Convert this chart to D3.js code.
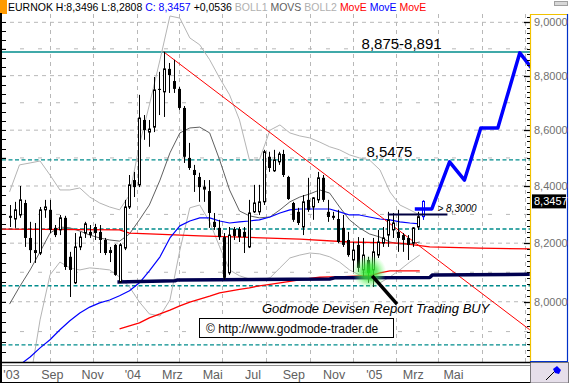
<!DOCTYPE html>
<html><head><meta charset="utf-8">
<script src="https://cdn.jsdelivr.net/npm/d3@7/dist/d3.min.js"></script>
<style>
html,body{margin:0;padding:0;background:#fff;overflow:hidden}
svg{display:block}
text{font-family:"Liberation Sans",Arial,Helvetica,sans-serif}
</style></head><body>
<svg id="chart" width="569" height="383"></svg>
<script>
// ================= DATA =================
const symbol = "EURNOK";
const headerHigh = "8,3496", headerLow = "8,2808", headerClose = "8,3457", headerChange = "+0,0536";
const lastPrice = 8.3457;
const firstWeek = "2003-07-07";

const opens = [8.295,8.284,8.298,8.340,8.218,8.176,8.166,8.316,8.316,8.253,
8.246,8.288,8.153,8.064,8.187,8.235,8.239,8.256,8.239,8.211,
8.176,8.194,8.067,8.183,8.326,8.421,8.404,8.637,8.593,8.611,
8.751,8.740,8.825,8.780,8.751,8.681,8.500,8.457,8.432,8.389,
8.382,8.274,8.253,8.221,8.098,8.249,8.249,8.239,8.187,8.309,
8.309,8.344,8.504,8.454,8.486,8.514,8.432,8.340,8.309,8.256,
8.351,8.326,8.351,8.429,8.309,8.295,8.284,8.253,8.211,8.142,
8.194,8.108,8.142,8.108,8.159,8.200,8.228,8.246,8.239,8.228,
8.218,8.200,8.256,8.2921];
const highs = [8.333,8.344,8.400,8.351,8.274,8.270,8.326,8.351,8.351,8.263,
8.298,8.295,8.170,8.235,8.239,8.274,8.263,8.267,8.263,8.218,
8.187,8.197,8.200,8.351,8.439,8.450,8.729,8.655,8.637,8.795,
8.814,8.889,8.847,8.859,8.758,8.688,8.554,8.475,8.447,8.421,
8.421,8.305,8.281,8.235,8.256,8.256,8.256,8.256,8.351,8.404,
8.404,8.529,8.522,8.529,8.522,8.529,8.436,8.344,8.323,8.368,
8.429,8.361,8.450,8.439,8.351,8.309,8.316,8.298,8.239,8.204,
8.221,8.218,8.153,8.218,8.246,8.256,8.309,8.305,8.316,8.235,
8.228,8.256,8.309,8.3496];
const lows = [8.256,8.253,8.288,8.187,8.132,8.132,8.159,8.288,8.235,8.221,
8.228,8.108,8.016,8.060,8.176,8.218,8.218,8.211,8.166,8.159,
8.135,8.088,8.064,8.176,8.319,8.361,8.396,8.565,8.540,8.593,
8.655,8.648,8.736,8.736,8.674,8.482,8.457,8.379,8.344,8.344,
8.253,8.246,8.211,8.074,8.091,8.211,8.204,8.166,8.183,8.305,
8.298,8.333,8.450,8.450,8.475,8.432,8.351,8.274,8.263,8.228,
8.309,8.281,8.340,8.344,8.274,8.281,8.200,8.187,8.153,8.101,
8.101,8.084,8.064,8.050,8.149,8.187,8.187,8.218,8.170,8.170,
8.142,8.187,8.246,8.2808];
const closes = [8.288,8.316,8.351,8.218,8.176,8.166,8.316,8.326,8.246,8.228,
8.288,8.118,8.108,8.187,8.221,8.267,8.228,8.235,8.211,8.166,
8.166,8.091,8.194,8.326,8.404,8.396,8.644,8.600,8.604,8.747,
8.747,8.825,8.802,8.751,8.681,8.504,8.464,8.439,8.396,8.396,
8.305,8.256,8.221,8.081,8.228,8.225,8.221,8.221,8.305,8.340,
8.344,8.522,8.464,8.493,8.514,8.439,8.354,8.281,8.270,8.344,
8.316,8.358,8.429,8.351,8.291,8.288,8.204,8.194,8.159,8.176,
8.115,8.159,8.098,8.170,8.204,8.218,8.281,8.270,8.218,8.211,
8.194,8.253,8.292,8.3457];

// sampling dates for the indicator lines (about every two weeks)
const gridDates = ["2003-06-23","2003-07-06","2003-07-20","2003-08-04","2003-08-18","2003-09-01","2003-09-15","2003-09-29","2003-10-13","2003-10-27",
"2003-11-10","2003-11-24","2003-12-08","2003-12-22","2004-01-05","2004-01-19","2004-02-03","2004-02-17","2004-03-02","2004-03-16",
"2004-03-30","2004-04-13","2004-04-27","2004-05-11","2004-05-25","2004-06-08","2004-06-22","2004-07-07","2004-07-21","2004-08-04",
"2004-08-18","2004-09-01","2004-09-15","2004-09-29","2004-10-13","2004-10-27","2004-11-10","2004-11-24","2004-12-09","2004-12-23",
"2005-01-06","2005-01-20","2005-02-03","2005-02-17","2005-03-03","2005-03-17","2005-03-31","2005-04-14","2005-04-28","2005-05-13",
"2005-05-27","2005-06-10","2005-06-24","2005-07-08"];

const bollUpperStart = 1;
const bollUpper = [8.379,8.475,8.482,8.489,8.439,8.386,8.386,8.393,8.361,8.340,8.326,8.316,8.368,8.547,8.692,8.859,9.024,9.016,8.941,8.915,
8.859,8.791,8.729,8.637,8.493,8.493,8.600,8.619,8.590,8.579,8.572,8.557,8.540,8.529,8.511,8.500,8.493,8.457,8.379,8.333,8.316,8.298];
const bollLowerStart = 3;
const bollLower = [7.740,7.939,8.091,8.135,8.115,8.108,8.115,8.112,8.108,8.084,8.050,7.999,7.959,7.952,8.006,8.176,8.323,8.333,8.274,8.187,
8.108,8.088,8.077,8.074,8.081,8.115,8.149,8.159,8.166,8.163,8.153,8.135,8.108,8.091,8.074,8.064,8.084,8.108,8.135,8.159];
const movsStart = 1;
const movs = [7.992,8.050,8.108,8.170,8.235,8.256,8.253,8.242,8.228,8.218,8.211,8.207,8.232,8.281,8.333,8.421,8.518,8.590,8.608,8.611,
8.590,8.493,8.386,8.312,8.295,8.288,8.291,8.316,8.344,8.361,8.372,8.386,8.375,8.326,8.281,8.253,8.232,8.221,8.204,8.197,8.197,8.204];
const blueMAStart = 2;
const blueMA = [7.789,7.816,7.846,7.873,7.906,7.936,7.962,7.982,7.996,8.006,8.020,8.037,8.064,8.105,8.153,8.218,8.260,8.277,8.288,8.288,
8.277,8.270,8.274,8.277,8.281,8.291,8.305,8.316,8.319,8.319,8.319,8.319,8.309,8.298,8.298,8.291,8.284,8.281,8.274,8.270,8.267];
const redRisingStart = 12;
const redRising = [7.909,7.919,7.929,7.946,7.959,7.972,7.986,7.999,8.009,8.019,8.030,8.036,8.042,8.047,8.054,8.059,8.064,8.069,8.074,8.079,
8.083,8.084,8.084,8.086,8.088,8.088,8.098,8.105,8.105,8.105,8.105];
const redFlatDates = ["2003-06-23","2003-12-08","2003-12-22","2004-01-19","2004-03-30","2004-06-08","2004-08-18","2004-10-27","2005-01-06","2005-02-17","2005-04-28","2005-07-08"];
const redFlatValues = [8.249,8.246,8.235,8.232,8.225,8.220,8.214,8.204,8.200,8.187,8.183,8.180];

// drawn support / resistance / projection
const supportDates = ["2003-12-05","2004-02-24","2004-02-28","2004-09-29","2004-10-06","2005-02-17","2005-02-21","2005-07-08"];
const supportValues = [8.067,8.071,8.074,8.077,8.081,8.082,8.091,8.093];
const trendDates = ["2004-02-08","2005-07-08"];
const trendValues = [8.889,7.906];
const resistDates = ["2004-12-20","2005-03-14"];
const resistValue = 8.30;
const projDates = ["2005-01-27","2005-02-20","2005-03-17","2005-04-07","2005-04-30","2005-05-24","2005-06-24","2005-07-22"];
const projValues = [8.319,8.319,8.486,8.421,8.608,8.608,8.885,8.788];
const levelValues = [8.888, 8.493, 8.249, 8.054, 7.856];
const levelLabels = ["8,875-8,891", "8,5475"];
const levelLabelDates = ["2004-11-13", "2004-11-20"];
const signalDate = "2004-11-24", signalValue = 8.101;
const arrowDates = ["2004-11-28", "2005-01-02"];
const arrowValues = [8.088, 7.992];

// axes
const yTickValues = [8.0, 8.2, 8.4, 8.6, 8.8, 9.0];
const yMinorGrid = [7.9, 8.1, 8.3, 8.5, 8.7, 8.9];
const xGridDates = ["2003-09-01","2003-11-01","2004-01-01","2004-03-01","2004-05-01","2004-07-01","2004-09-01","2004-11-01","2005-01-01","2005-03-01","2005-05-01","2005-07-01"];
const xLabelDates = ["2003-07-01","2003-09-01","2003-11-01","2004-01-01","2004-03-01","2004-05-01","2004-07-01","2004-09-01","2004-11-01","2005-01-01","2005-03-01","2005-05-01"];
const xLabels = ["'03","Sep","Nov","'04","Mrz","Mai","Jul","Sep","Nov","'05","Mrz","Mai"];

// ================= CHART =================
const parse = d3.timeParse("%Y-%m-%d");
const svg = d3.select("#chart");
const P = {l: 2, r: 530.5, t: 14, b: 362};
const x = d3.scaleTime().domain([parse("2003-09-01"), parse("2005-05-01")]).range([50, 481.5]);
// the label strip of the original runs on its own, slightly compressed scale
const xLab = d3.scaleTime().domain([parse("2003-07-01"), parse("2005-05-01")]).range([11.5, 453.5]);
const y = d3.scaleLog().domain([7.8, 9.0316]).range([361.8, 14]);

svg.append("rect").attr("width", 569).attr("height", 383).attr("fill", "#fff");
const defs = svg.append("defs");
defs.append("clipPath").attr("id", "clip").append("rect")
  .attr("x", P.l).attr("y", P.t).attr("width", P.r - P.l).attr("height", P.b - P.t);
const grad = defs.append("radialGradient").attr("id", "glow");
grad.append("stop").attr("offset", "0%").attr("stop-color", "#20e820").attr("stop-opacity", 0.95);
grad.append("stop").attr("offset", "45%").attr("stop-color", "#40e840").attr("stop-opacity", 0.75);
grad.append("stop").attr("offset", "100%").attr("stop-color", "#80ff80").attr("stop-opacity", 0);

const g = svg.append("g").attr("clip-path", "url(#clip)");

// grid
g.selectAll(".hg").data(yTickValues).join("line")
  .attr("x1", P.l).attr("x2", P.r).attr("y1", d => y(d)).attr("y2", d => y(d))
  .attr("stroke", "#b8b8b8").attr("stroke-dasharray", "4,4");
g.selectAll(".hm").data(yMinorGrid).join("line")
  .attr("x1", P.l).attr("x2", P.r).attr("y1", d => y(d)).attr("y2", d => y(d))
  .attr("stroke", "#b8b8b8").attr("stroke-dasharray", "4,14");
g.selectAll(".vg").data(xGridDates.map(parse)).join("line")
  .attr("x1", d => Math.round(x(d)) + 0.5).attr("x2", d => Math.round(x(d)) + 0.5)
  .attr("y1", P.t).attr("y2", P.b)
  .attr("stroke", "#b8b8b8").attr("stroke-dasharray", "4,4");

// levels
g.selectAll(".lv").data(levelValues).join("line")
  .attr("x1", P.l).attr("x2", P.r).attr("y1", d => y(d)).attr("y2", d => y(d))
  .attr("stroke", "#008c8c").attr("stroke-width", 1.4)
  .attr("stroke-dasharray", (d, i) => i === 0 ? null : "4,2.5");

const line = d3.line().defined(d => d.v != null).x(d => x(d.d)).y(d => y(d.v));
const fromGrid = (start, vals) => vals.map((v, k) => ({d: parse(gridDates[start + k]), v}));
const fromPairs = (ds, vs) => ds.map((d, k) => ({d: parse(d), v: vs[k]}));
function path(data, color, width) {
  g.append("path").datum(data).attr("d", line).attr("fill", "none")
    .attr("stroke", color).attr("stroke-width", width).attr("stroke-linejoin", "round");
}
path(fromGrid(bollUpperStart, bollUpper), "#b4b4b4", 1);
path(fromGrid(bollLowerStart, bollLower), "#b4b4b4", 1);
path(fromGrid(movsStart, movs), "#606060", 1);
path(fromPairs(redFlatDates, redFlatValues), "#ff0000", 1.3);
path(fromGrid(redRisingStart, redRising), "#ff0000", 1.3);
path(fromGrid(blueMAStart, blueMA), "#0000ff", 1.2);
path(fromPairs(trendDates, trendValues), "#ff0000", 1);
path(fromPairs(supportDates, supportValues), "#000050", 3.5);

// candles
const weekDates = opens.map((_, i) => d3.timeWeek.offset(parse(firstWeek), i));
const candles = opens.map((o, i) => ({d: weekDates[i], o, h: highs[i], l: lows[i], c: closes[i], last: i === opens.length - 1}));
const cg = g.append("g");
candles.forEach(k => {
  const cx = Math.round(x(k.d));
  const col = k.last ? "#0000ff" : "#000";
  cg.append("line").attr("x1", cx + 0.5).attr("x2", cx + 0.5)
    .attr("y1", y(k.h)).attr("y2", y(k.l)).attr("stroke", col).attr("stroke-width", 1);
  const top = y(Math.max(k.o, k.c)), bot = y(Math.min(k.o, k.c));
  if (k.c >= k.o) {
    cg.append("rect").attr("x", cx - 0.5).attr("y", top).attr("width", 2).attr("height", Math.max(1, bot - top))
      .attr("fill", "#fff").attr("stroke", col).attr("stroke-width", 1);
  } else {
    cg.append("rect").attr("x", cx - 1).attr("y", top).attr("width", 3).attr("height", Math.max(1, bot - top))
      .attr("fill", col);
  }
});

// signal glow
g.append("circle").attr("cx", x(parse(signalDate))).attr("cy", y(signalValue)).attr("r", 17).attr("fill", "url(#glow)");
path(fromPairs(arrowDates, arrowValues), "#000", 3.5);

// resistance and projection
g.append("line").attr("x1", x(parse(resistDates[0]))).attr("x2", x(parse(resistDates[1])))
  .attr("y1", y(resistValue)).attr("y2", y(resistValue)).attr("stroke", "#000040").attr("stroke-width", 2);
path(fromPairs(projDates, projValues), "#0000ff", 3.5);

// level labels
g.selectAll(".ll").data(levelLabels).join("text")
  .attr("x", (d, i) => x(parse(levelLabelDates[i]))).attr("y", (d, i) => y(levelValues[i]) - 3)
  .attr("font-size", 15).attr("fill", "#000").text(d => d);
g.append("text").attr("x", x(parse(resistDates[1])) - 10).attr("y", y(resistValue) - 2)
  .attr("font-size", 10).attr("font-style", "italic").text("> 8,3000");

// annotation texts
svg.append("text").attr("x", 262).attr("y", 313).attr("font-size", 13).attr("font-style", "italic")
  .text("Godmode Devisen Report Trading BUY");
svg.append("rect").attr("x", 199.5).attr("y", 318.5).attr("width", 194).attr("height", 19)
  .attr("fill", "#fff").attr("stroke", "#000");
svg.append("text").attr("x", 206).attr("y", 333).attr("font-size", 12).text("\u00a9 http://www.godmode-trader.de");

// ---------- frame / axes ----------
// header
svg.append("rect").attr("x", 0).attr("y", 0).attr("width", 7).attr("height", 14).attr("fill", "#ff9a00");
const hdr = svg.append("text").attr("x", 8).attr("y", 11).attr("font-size", 10.5);
const parts = [
  [`${symbol} H:${headerHigh} L:${headerLow} `, "#000"],
  [`C: ${headerClose}`, "#0000ff"],
  [` ${headerChange} `, "#000"],
  ["BOLL1 ", "#b0b0b0"], ["MOVS ", "#606060"], ["BOLL2 ", "#b0b0b0"],
  ["MovE ", "#ff0000"], ["MovE ", "#0000ff"], ["MovE", "#ff0000"]];
parts.forEach(p => hdr.append("tspan").attr("fill", p[1]).text(p[0]));
svg.append("rect").attr("x", 554.5).attr("y", 1.5).attr("width", 13).attr("height", 4)
  .attr("fill", "#d8d8d8").attr("stroke", "#a0a0a0");

// left axis
svg.append("rect").attr("x", 0).attr("y", 13).attr("width", 2).attr("height", 370).attr("fill", "#000");
const leftTicks = d3.range(7.8, 9.03, 1 / 30);
svg.selectAll(".lt").data(leftTicks).join("line")
  .attr("x1", 2).attr("x2", 6).attr("y1", d => Math.round(y(d)) + 0.5).attr("y2", d => Math.round(y(d)) + 0.5)
  .attr("stroke", "#000");

// right axis
const minorTicks = d3.range(7.8, 9.031, 0.02);
svg.selectAll(".rt").data(minorTicks).join("line")
  .attr("x1", 527).attr("x2", 530).attr("y1", d => Math.round(y(d)) + 0.5).attr("y2", d => Math.round(y(d)) + 0.5)
  .attr("stroke", "#000");
svg.selectAll(".rT").data(yTickValues).join("line")
  .attr("x1", 524).attr("x2", 530).attr("y1", d => Math.round(y(d)) + 0.5).attr("y2", d => Math.round(y(d)) + 0.5)
  .attr("stroke", "#000").attr("stroke-width", 1.3);
svg.append("line").attr("x1", 530.5).attr("x2", 530.5).attr("y1", 14).attr("y2", 362).attr("stroke", "#f2c200").attr("stroke-width", 1.2);
svg.append("line").attr("x1", 530).attr("x2", 568).attr("y1", 14.5).attr("y2", 14.5).attr("stroke", "#f2c200").attr("stroke-width", 1.2);
svg.append("line").attr("x1", 567.5).attr("x2", 567.5).attr("y1", 14).attr("y2", 362).attr("stroke", "#0030c8").attr("stroke-width", 1.2);
svg.append("line").attr("x1", 530).attr("x2", 568).attr("y1", 361.5).attr("y2", 361.5).attr("stroke", "#0030c8").attr("stroke-width", 1.2);
svg.selectAll(".rl").data(yTickValues).join("text")
  .attr("x", 534).attr("y", d => y(d)).attr("dy", "0.36em").attr("font-size", 11).attr("fill", "#707070")
  .text(d => d.toFixed(4).replace(".", ","));
svg.append("rect").attr("x", 532).attr("y", y(lastPrice) - 7).attr("width", 34).attr("height", 14).attr("fill", "#000");
svg.append("text").attr("x", 534).attr("y", y(lastPrice)).attr("dy", "0.36em").attr("font-size", 11).attr("fill", "#fff")
  .text(lastPrice.toFixed(4).replace(".", ","));

// bottom axis
svg.append("line").attr("x1", 0).attr("x2", 530).attr("y1", 362.5).attr("y2", 362.5).attr("stroke", "#000").attr("stroke-width", 1.5);
svg.append("line").attr("x1", 2).attr("x2", 530).attr("y1", 365.5).attr("y2", 365.5).attr("stroke", "#909090");
svg.append("line").attr("x1", 0).attr("x2", 530).attr("y1", 382.5).attr("y2", 382.5).attr("stroke", "#000");
svg.append("rect").attr("x", 530.5).attr("y", 362.5).attr("width", 38).attr("height", 20.5).attr("fill", "#e6dfea").attr("stroke", "#000").attr("stroke-width", 0.5);
svg.append("line").attr("x1", 546).attr("x2", 556).attr("y1", 380).attr("y2", 370).attr("stroke", "#000").attr("stroke-width", 1);
svg.append("path").attr("d", "M553,369 L557,366 L561,370 L559,374 L555,373 Z").attr("fill", "#0000ff");
svg.selectAll(".xl").data(xLabels).join("text")
  .attr("x", (d, i) => xLab(parse(xLabelDates[i])))
  .attr("y", 379).attr("text-anchor", "middle").attr("font-size", 12.5).attr("fill", "#606060")
  .text(d => d);
</script>
</body></html>
